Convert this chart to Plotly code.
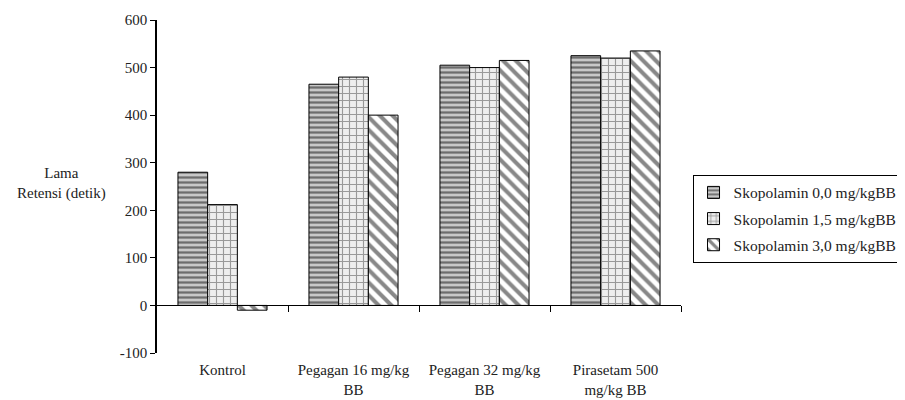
import plotly.graph_objects as go

categories = ["Kontrol", "Pegagan 16 mg/kg<br>BB", "Pegagan 32 mg/kg<br>BB", "Pirasetam 500<br>mg/kg BB"]
series_names = ["Skopolamin 0,0 mg/kgBB", "Skopolamin 1,5 mg/kgBB", "Skopolamin 3,0 mg/kgBB"]
s0_values = [280, 465, 505, 525]
s1_values = [212, 480, 500, 520]
s2_values = [-10, 400, 515, 535]
y_ticks = [-100, 0, 100, 200, 300, 400, 500, 600]

FONT = "Liberation Serif"
TXT = "#222222"

styles = [
    dict(color="#c8c8c8", pattern=dict(shape="-", fgcolor="#111111", bgcolor="#c8c8c8", size=5, solidity=0.45)),
    dict(color="#eeeeee", pattern=dict(shape="+", fgcolor="#444444", bgcolor="#eeeeee", size=7, solidity=0.3)),
    dict(color="#ffffff", pattern=dict(shape="\\", fgcolor="#111111", bgcolor="#ffffff", size=9, solidity=0.45)),
]

fig = go.Figure()
for name, vals, st in zip(series_names, [s0_values, s1_values, s2_values], styles):
    fig.add_trace(go.Bar(
        x=categories, y=vals, name=name, legendgroup=name,
        marker=dict(color=st["color"], pattern=st["pattern"],
                    line=dict(color="#000000", width=1)),
    ))

# page has an 8px body margin, so margins are reduced by 8 on top/left
fig.update_layout(
    width=905, height=400,
    margin=dict(l=149, r=232, t=12, b=55, autoexpand=False),
    paper_bgcolor="white", plot_bgcolor="white",
    barmode="group", bargap=0.32, bargroupgap=0,
    font=dict(family=FONT, size=15, color=TXT),
    showlegend=True,
    legend=dict(x=1.022, y=0.535, xanchor="left", yanchor="top",
                bordercolor="#000000", borderwidth=1,
                font=dict(family=FONT, size=15.5, color=TXT),
                traceorder="grouped", tracegroupgap=3, itemwidth=30),
    xaxis=dict(type="category", showline=False, ticks="", showgrid=False,
               automargin=False,
               tickfont=dict(family=FONT, size=15, color=TXT),
               ticklabelstandoff=6,
               range=[-0.5, 3.5]),
    xaxis2=dict(overlaying="x", anchor="free", position=1/7, range=[-0.5, 3.5],
                automargin=False,
                showline=True, linecolor="#000000", linewidth=1,
                tickvals=[0.5, 1.5, 2.5, 3.5], ticks="outside", ticklen=6,
                tickcolor="#000000", showticklabels=False, showgrid=False,
                zeroline=False),
    yaxis=dict(range=[-100, 600], tickvals=y_ticks, ticktext=[str(v) for v in y_ticks],
               automargin=False,
               showline=True, linecolor="#000000", linewidth=1.5,
               ticks="outside", ticklen=5, tickcolor="#000000",
               showgrid=False, zeroline=False,
               tickfont=dict(family=FONT, size=15, color=TXT)),
    annotations=[dict(text="Lama<br>Retensi (detik)", xref="paper", yref="paper",
                      x=-0.183, y=0.51, xanchor="center", yanchor="middle",
                      showarrow=False, font=dict(family=FONT, size=15, color=TXT))],
)
# invisible helper trace to activate the zero-line category axis
fig.add_trace(go.Scatter(x=[0], y=[0], xaxis="x2", mode="markers",
                         marker=dict(opacity=0), showlegend=False, hoverinfo="skip"))

fig.write_html("out.html")
